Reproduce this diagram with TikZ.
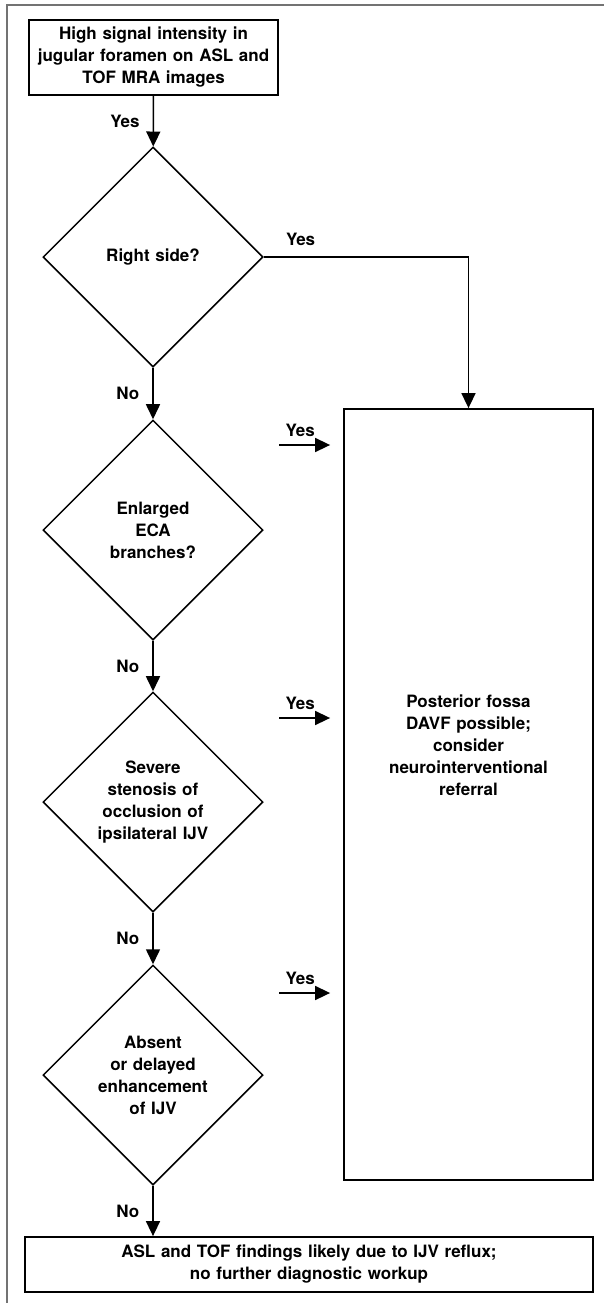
\documentclass[tikz,border=0pt]{standalone}
\usepackage{fontspec}
\setmainfont{TeX Gyre Heros}
\usetikzlibrary{shapes.geometric,arrows.meta}

\begin{document}
\begin{tikzpicture}[x=1pt, y=-1pt,
            every node/.style={
            inner sep=0.1em, text centered, font=\bfseries\fontsize{17}{22}\selectfont}
        ]
        \tikzstyle {frame_line} = [draw=black!55, line width=2.5pt]
        \tikzstyle {plain_box} = [rectangle, draw=black, line width=1.8pt]
        \tikzstyle {decision} = [diamond, aspect=1, draw=black, line width=1.5pt, minimum width=220pt, minimum height=220pt, inner sep=0pt, text width=130pt]
        \tikzstyle {flow} = [draw=black, line width=1.6pt, -{Triangle[length=15pt,width=14pt]}]

        \useasboundingbox (0,0) rectangle (604,1303);
        \draw [frame_line] (7,1303) -- (7,5) -- (604,5);

        \node [plain_box, minimum width=249pt, minimum height=75pt, text width=240pt] (start) at (153.5,57.5) {High signal intensity in\\ jugular foramen on ASL and\\ TOF MRA images};
        \node [decision] (right) at (153,257) {Right side?};
        \node [decision] (eca) at (153,530) {Enlarged\\ ECA\\ branches?};
        \node [decision] (ijv) at (153,802) {Severe\\ stenosis of\\ occlusion of\\ ipsilateral IJV};
        \node [decision] (delay) at (153,1075) {Absent\\ or delayed\\ enhancement\\ of IJV};
        \node [plain_box, minimum width=568pt, minimum height=55pt, text width=560pt] (reflux) at (309,1264.5) {ASL and TOF findings likely due to IJV reflux;\\ no further diagnostic workup};
        \node [plain_box, minimum width=249pt, minimum height=771pt] (davf) at (468.5,794.5) {};
        \node [text width=220pt] (davf_text) at (468.5,745) {Posterior fossa\\ DAVF possible;\\ consider\\ neurointerventional\\ referral};

        \coordinate (yes_eca) at (279,445);
        \coordinate (yes_ijv) at (279,718);
        \coordinate (yes_delay) at (279,993);

        % main column
        \draw [flow] (start) -- (right) node [midway, left=12pt] {Yes};
        \draw [flow] (right) -- (eca) node [midway, left=12pt] {No};
        \draw [flow] (eca) -- (ijv) node [midway, left=12pt] {No};
        \draw [flow] (ijv) -- (delay) node [midway, left=12pt] {No};
        \draw [flow] (delay.south) -- (delay.south |- reflux.north) node [midway, left=12pt] {No};

        % yes branches
        \draw [flow] (right.east) -| (davf.north) node [pos=0.09, above=10pt] {Yes};
        \draw [flow, shorten >=13pt] (yes_eca) -- (yes_eca -| davf.west) node [pos=0.33, above=7pt] {Yes};
        \draw [flow, shorten >=13pt] (yes_ijv) -- (yes_ijv -| davf.west) node [pos=0.33, above=7pt] {Yes};
        \draw [flow, shorten >=13pt] (yes_delay) -- (yes_delay -| davf.west) node [pos=0.33, above=7pt] {Yes};

\end{tikzpicture}
\end{document}
